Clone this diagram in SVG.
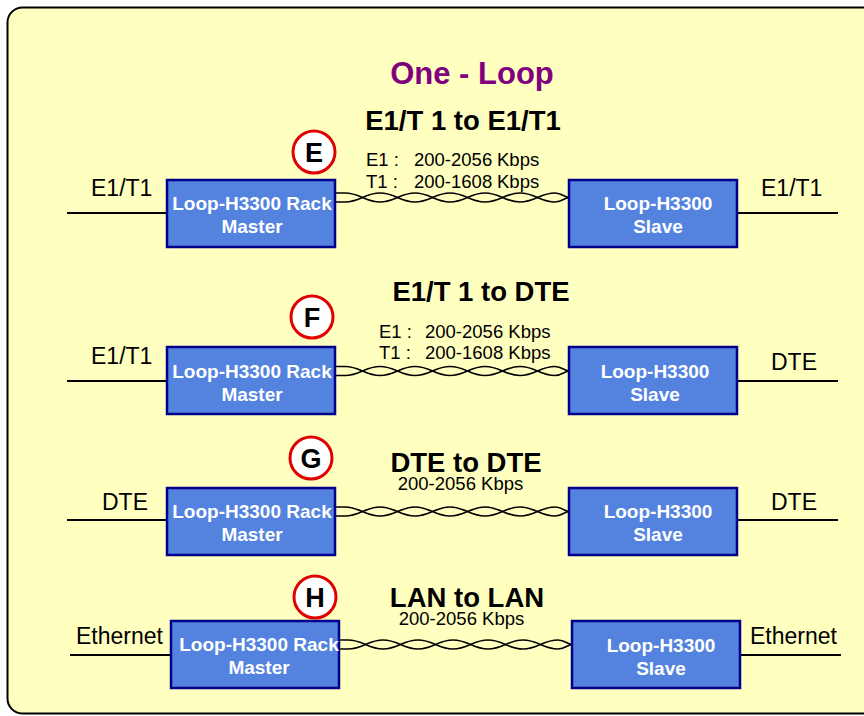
<svg xmlns="http://www.w3.org/2000/svg" xmlns:xlink="http://www.w3.org/1999/xlink" width="864" height="716" viewBox="0 0 864 716">
<style>
.bg{fill:#FFFFC0;stroke:#000;stroke-width:2}
.box{fill:#5383DF;stroke:#00008C;stroke-width:2.5}
.bt{font-family:"Liberation Sans",Arial,sans-serif;font-weight:bold;font-size:19px;fill:#fff;text-anchor:middle}
.lbl{font-family:"Liberation Sans",Arial,sans-serif;font-size:23px;fill:#000}
.sm{font-family:"Liberation Sans",Arial,sans-serif;font-size:18.5px;fill:#000}
.ttl{font-family:"Liberation Sans",Arial,sans-serif;font-weight:bold;font-size:27.5px;fill:#000;text-anchor:middle}
.main{font-family:"Liberation Sans",Arial,sans-serif;font-weight:bold;font-size:31px;fill:#800080;text-anchor:middle}
.circ{fill:#fff;stroke:#E00000;stroke-width:3}
.ct{font-family:"Liberation Sans",Arial,sans-serif;font-weight:bold;font-size:27px;fill:#000;text-anchor:middle}
.ln{stroke:#000;stroke-width:2;fill:none}
.tw{stroke:#000;stroke-width:1.6;fill:none}
</style>
<defs>
<g id="twist">
<path class="tw" d="M0,-4.5 L9,-4.5 C24,-4.5 29,4.5 44,4.5 C59,4.5 64,-4.5 79,-4.5 C94,-4.5 99,4.5 114,4.5 C129,4.5 134,-4.5 149,-4.5 C164,-4.5 169,4.5 184,4.5 C199,4.5 204,-4.5 219,-4.5 C226,-4.5 229,0 233,0"/>
<path class="tw" d="M0,4.5 L9,4.5 C24,4.5 29,-4.5 44,-4.5 C59,-4.5 64,4.5 79,4.5 C94,4.5 99,-4.5 114,-4.5 C129,-4.5 134,4.5 149,4.5 C164,4.5 169,-4.5 184,-4.5 C199,-4.5 204,4.5 219,4.5 C226,4.5 229,0 233,0"/>
</g>
</defs>
<rect class="bg" x="7.5" y="7.5" width="880" height="706" rx="15"/>
<text class="main" x="472" y="84">One - Loop</text>
<text class="ttl" x="463" y="130">E1/T 1 to E1/T1</text>
<text class="ttl" x="481" y="301">E1/T 1 to DTE</text>
<text class="ttl" x="466" y="472">DTE to DTE</text>
<text class="ttl" x="467" y="607">LAN to LAN</text>

<g id="connectors">
<line class="ln" x1="67" y1="213" x2="167" y2="213"/>
<line class="ln" x1="737" y1="213" x2="838" y2="213"/>
<use xlink:href="#twist" transform="translate(336,197.5)"/>
<line class="ln" x1="67" y1="381" x2="167" y2="381"/>
<line class="ln" x1="737" y1="381" x2="838" y2="381"/>
<use xlink:href="#twist" transform="translate(336,371)"/>
<line class="ln" x1="67" y1="520" x2="167" y2="520"/>
<line class="ln" x1="737" y1="520" x2="838" y2="520"/>
<use xlink:href="#twist" transform="translate(336,511.5)"/>
<line class="ln" x1="70" y1="655" x2="171" y2="655"/>
<line class="ln" x1="741" y1="655" x2="841" y2="655"/>
<use xlink:href="#twist" transform="translate(339,644.5)"/>
</g>

<g id="labels">
<text class="lbl" x="91" y="196">E1/T1</text>
<text class="lbl" x="761" y="196">E1/T1</text>
<text class="lbl" x="91" y="364">E1/T1</text>
<text class="lbl" x="771" y="370">DTE</text>
<text class="lbl" x="102" y="510">DTE</text>
<text class="lbl" x="771" y="510">DTE</text>
<text class="lbl" x="76" y="644">Ethernet</text>
<text class="lbl" x="750" y="644">Ethernet</text>
<text class="sm" x="366" y="166">E1 :</text>
<text class="sm" x="414" y="166">200-2056</text>
<text class="sm" x="497" y="166">Kbps</text>
<text class="sm" x="366" y="188">T1 :</text>
<text class="sm" x="414" y="188">200-1608</text>
<text class="sm" x="497" y="188">Kbps</text>
<text class="sm" x="379" y="338">E1 :</text>
<text class="sm" x="425" y="338">200-2056 Kbps</text>
<text class="sm" x="379" y="359">T1 :</text>
<text class="sm" x="425" y="359">200-1608 Kbps</text>
<text class="sm" x="460.5" y="490" text-anchor="middle">200-2056 Kbps</text>
<text class="sm" x="461.5" y="625" text-anchor="middle">200-2056 Kbps</text>
</g>

<g id="master-e"><rect class="box" x="167" y="180" width="168" height="67"/><text class="bt" x="252" y="210">Loop-H3300 Rack</text><text class="bt" x="252" y="233">Master</text></g>
<g id="slave-e"><rect class="box" x="569" y="180" width="168" height="67"/><text class="bt" x="658" y="210">Loop-H3300</text><text class="bt" x="658" y="233">Slave</text></g>
<g id="master-f"><rect class="box" x="167" y="347" width="168" height="67"/><text class="bt" x="252" y="378">Loop-H3300 Rack</text><text class="bt" x="252" y="401">Master</text></g>
<g id="slave-f"><rect class="box" x="569" y="347" width="168" height="67"/><text class="bt" x="655" y="378">Loop-H3300</text><text class="bt" x="655" y="401">Slave</text></g>
<g id="master-g"><rect class="box" x="167" y="488" width="168" height="67"/><text class="bt" x="252" y="518">Loop-H3300 Rack</text><text class="bt" x="252" y="541">Master</text></g>
<g id="slave-g"><rect class="box" x="569" y="488" width="168" height="67"/><text class="bt" x="658" y="518">Loop-H3300</text><text class="bt" x="658" y="541">Slave</text></g>
<g id="master-h"><rect class="box" x="171" y="621" width="168" height="67"/><text class="bt" x="259" y="651">Loop-H3300 Rack</text><text class="bt" x="259" y="674">Master</text></g>
<g id="slave-h"><rect class="box" x="572" y="621" width="168" height="67"/><text class="bt" x="661" y="652">Loop-H3300</text><text class="bt" x="661" y="675">Slave</text></g>

<g id="badge-e"><circle class="circ" cx="314" cy="152" r="21"/><text class="ct" x="314" y="162">E</text></g>
<g id="badge-f"><circle class="circ" cx="312" cy="317" r="21"/><text class="ct" x="312" y="327">F</text></g>
<g id="badge-g"><circle class="circ" cx="311" cy="458" r="21"/><text class="ct" x="311" y="468">G</text></g>
<g id="badge-h"><circle class="circ" cx="315" cy="597" r="21"/><text class="ct" x="315" y="607">H</text></g>
</svg>
